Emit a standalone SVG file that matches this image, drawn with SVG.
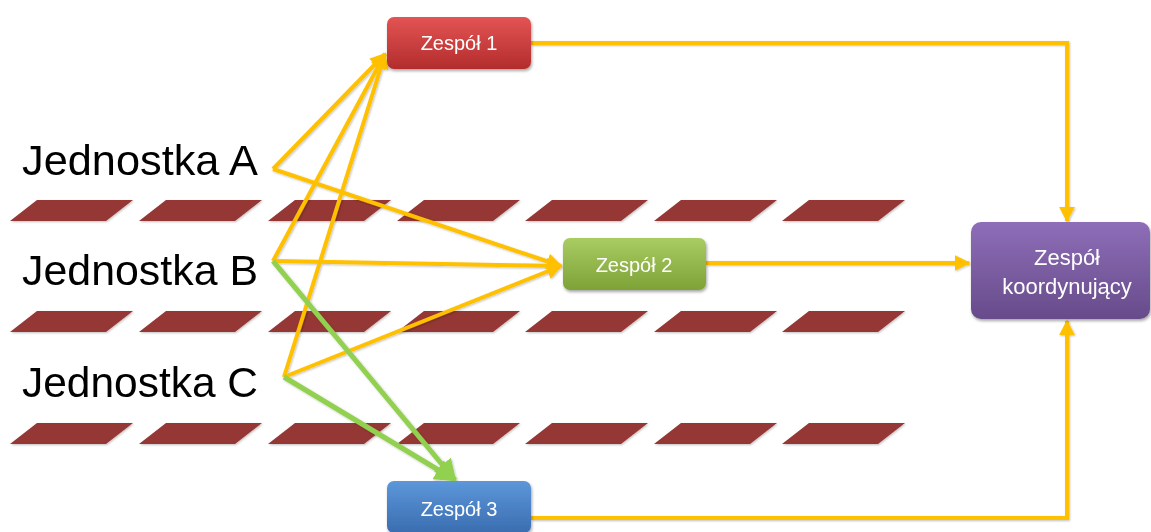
<svg xmlns="http://www.w3.org/2000/svg" width="1151" height="532" viewBox="0 0 1151 532">
<defs>
<linearGradient id="gR" x1="0" y1="0" x2="0" y2="1"><stop offset="0" stop-color="#E35454"/><stop offset="1" stop-color="#B32C2C"/></linearGradient>
<linearGradient id="gG" x1="0" y1="0" x2="0" y2="1"><stop offset="0" stop-color="#A9CC63"/><stop offset="1" stop-color="#7DA236"/></linearGradient>
<linearGradient id="gB" x1="0" y1="0" x2="0" y2="1"><stop offset="0" stop-color="#5C97DA"/><stop offset="1" stop-color="#3A6DB0"/></linearGradient>
<linearGradient id="gP" x1="0" y1="0" x2="0" y2="1"><stop offset="0" stop-color="#8E6EB8"/><stop offset="1" stop-color="#674B8A"/></linearGradient>
<filter id="sh" x="-20%" y="-20%" width="140%" height="150%"><feDropShadow dx="1" dy="2" stdDeviation="1.5" flood-color="#000" flood-opacity="0.35"/></filter>
<filter id="lsh" x="-5%" y="-5%" width="110%" height="110%"><feDropShadow dx="1" dy="1" stdDeviation="0.8" flood-color="#000" flood-opacity="0.25"/></filter>
<marker id="aY" viewBox="0 0 10 10" refX="9" refY="5" markerWidth="16" markerHeight="16" markerUnits="userSpaceOnUse" orient="auto"><path d="M0,0 L10,5 L0,10 Z" fill="#FFC000"/></marker>
<marker id="aG" viewBox="0 0 10 10" refX="9" refY="5" markerWidth="22" markerHeight="22" markerUnits="userSpaceOnUse" orient="auto"><path d="M0,0 L10,5 L0,10 Z" fill="#92D050"/></marker>
<path id="pg" d="M27,0 L123,0 L96,21 L0,21 Z"/>
</defs>
<style>
.lbl{font-family:"Liberation Sans",Arial,sans-serif;font-size:42px;fill:#000}
.bt{font-family:"Liberation Sans",Arial,sans-serif;font-size:20px;fill:#fff;text-anchor:middle}
.ct{font-size:22px}
.y{fill:none;stroke:#FFC000;stroke-width:4;stroke-linejoin:miter}
.g{fill:none;stroke:#92D050;stroke-width:5}
.par{fill:#953735}
</style>
<rect width="1151" height="532" fill="#fff"/>
<g id="floors" class="par" filter="url(#lsh)">
<use href="#pg" x="10" y="200"/><use href="#pg" x="139" y="200"/><use href="#pg" x="268" y="200"/><use href="#pg" x="397" y="200"/><use href="#pg" x="525" y="200"/><use href="#pg" x="654" y="200"/><use href="#pg" x="782" y="200"/>
<use href="#pg" x="10" y="311"/><use href="#pg" x="139" y="311"/><use href="#pg" x="268" y="311"/><use href="#pg" x="397" y="311"/><use href="#pg" x="525" y="311"/><use href="#pg" x="654" y="311"/><use href="#pg" x="782" y="311"/>
<use href="#pg" x="10" y="423"/><use href="#pg" x="139" y="423"/><use href="#pg" x="268" y="423"/><use href="#pg" x="397" y="423"/><use href="#pg" x="525" y="423"/><use href="#pg" x="654" y="423"/><use href="#pg" x="782" y="423"/>
</g>
<g id="unitA"><text class="lbl" x="22" y="175" textLength="236" lengthAdjust="spacingAndGlyphs">Jednostka A</text></g>
<g id="unitB"><text class="lbl" x="22" y="285" textLength="236" lengthAdjust="spacingAndGlyphs">Jednostka B</text></g>
<g id="unitC"><text class="lbl" x="22" y="397" textLength="236" lengthAdjust="spacingAndGlyphs">Jednostka C</text></g>
<g id="connectors" filter="url(#lsh)">
<path class="y" d="M273,169 L385,54" marker-end="url(#aY)"/>
<path class="y" d="M273,169 L561,266" marker-end="url(#aY)"/>
<path class="y" d="M273,261 L385,54" marker-end="url(#aY)"/>
<path class="y" d="M273,261 L561,266" marker-end="url(#aY)"/>
<path class="y" d="M284,377 L385,54" marker-end="url(#aY)"/>
<path class="y" d="M284,377 L561,266" marker-end="url(#aY)"/>
<path class="g" d="M273,261 L455,480" marker-end="url(#aG)"/>
<path class="g" d="M284,377 L455,480" marker-end="url(#aG)"/>
<path class="y" d="M531,43 L1067,43 L1067,221" marker-end="url(#aY)"/>
<path class="y" d="M706,263 L969,263" marker-end="url(#aY)"/>
<path class="y" d="M531,518 L1067,518 L1067,321" marker-end="url(#aY)"/>
</g>
<g id="zespol1"><rect x="387" y="17" width="144" height="52" rx="7" fill="url(#gR)" filter="url(#sh)"/><text class="bt" x="459" y="50">Zespół 1</text></g>
<g id="zespol2"><rect x="563" y="238" width="143" height="52" rx="7" fill="url(#gG)" filter="url(#sh)"/><text class="bt" x="634" y="272">Zespół 2</text></g>
<g id="zespol3"><rect x="387" y="481" width="144" height="52" rx="7" fill="url(#gB)" filter="url(#sh)"/><text class="bt" x="459" y="516">Zespół 3</text></g>
<g id="koord"><rect x="971" y="222" width="179" height="97" rx="10" fill="url(#gP)" filter="url(#sh)"/><text class="bt ct" x="1067" y="265">Zespół</text><text class="bt ct" x="1067" y="294">koordynujący</text></g>
</svg>
